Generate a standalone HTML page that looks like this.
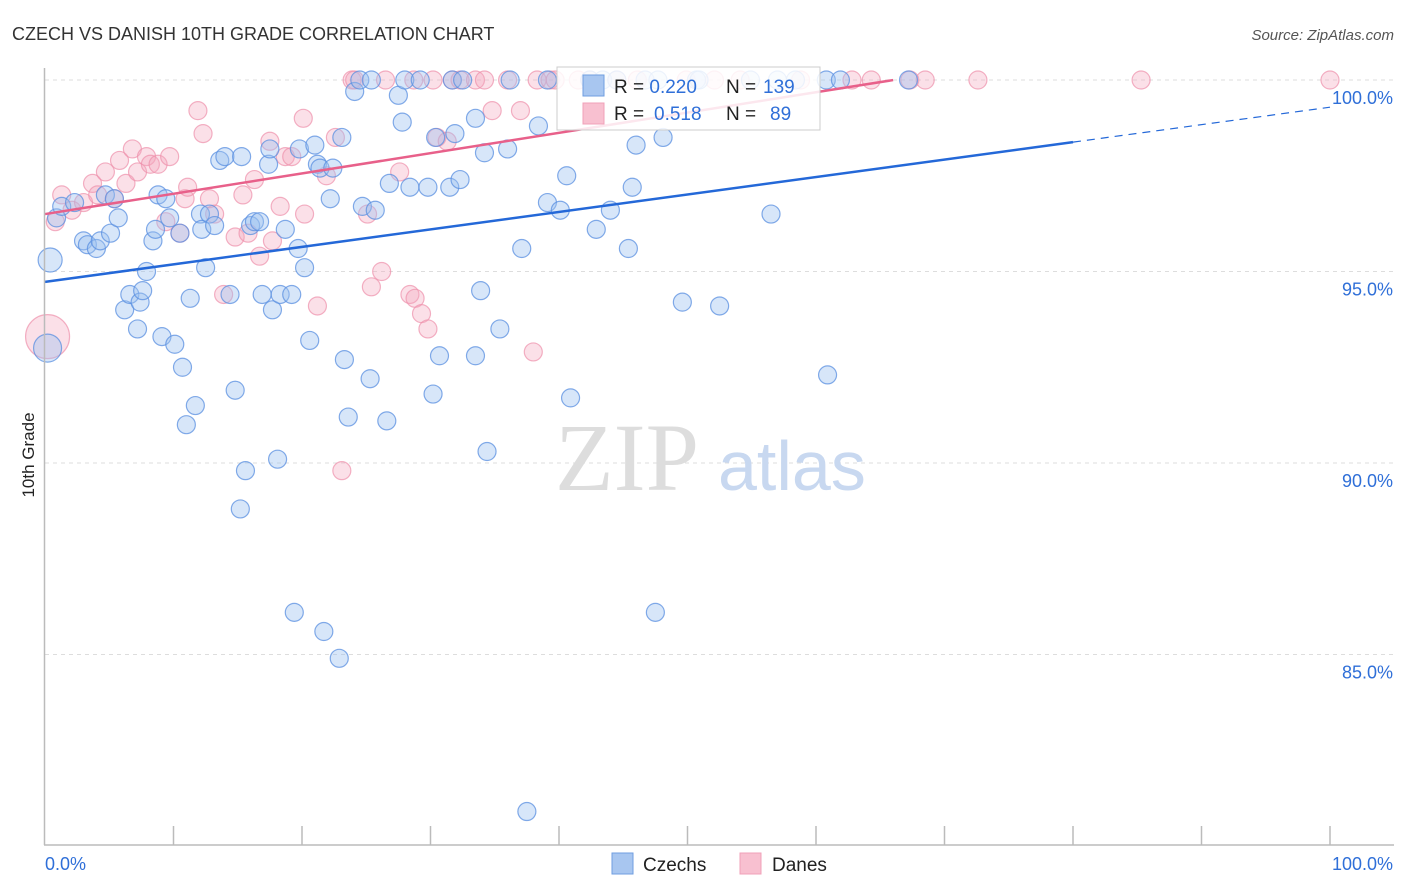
<!DOCTYPE html>
<html><head><meta charset="utf-8"><style>
body{margin:0;background:#fff;font-family:"Liberation Sans",sans-serif}
svg{display:block}
</style></head><body>
<svg id="chart" width="1406" height="892">
<text x="12" y="40" font-size="18" fill="#333">CZECH VS DANISH 10TH GRADE CORRELATION CHART</text>
<text x="1394" y="40" font-size="15" fill="#555" font-style="italic" text-anchor="end">Source: ZipAtlas.com</text>
<text x="34" y="455" font-size="17" fill="#222" text-anchor="middle" transform="rotate(-90 34 455)">10th Grade</text>
<g id="grid"></g>
<text x="555" y="490" font-size="96" fill="#ddd" font-family="Liberation Serif,serif">ZIP</text>
<text x="718" y="490" font-size="70" fill="#c8d8f0">atlas</text>
<g id="pts"></g>
<g id="lines"></g>
<line x1="44.5" y1="68" x2="44.5" y2="845" stroke="#bbb" stroke-width="1.5"/>
<line x1="44" y1="845" x2="1394" y2="845" stroke="#bbb" stroke-width="1.5"/>
<g id="axes"></g>
<g>
<rect x="557" y="67" width="263" height="63" fill="#fff" fill-opacity="0.85" stroke="#ccc"/>
<rect x="583" y="75" width="21" height="21" fill="#a8c6f0" stroke="#6f9ee0"/>
<rect x="583" y="103" width="21" height="21" fill="#f8c0d0" stroke="#f0a0b8"/>
<text x="614" y="93" font-size="19" fill="#222">R = <tspan fill="#2f6fd8">0.220</tspan><tspan x="726">N = </tspan><tspan fill="#2f6fd8" x="763">139</tspan></text>
<text x="614" y="120" font-size="19" fill="#222">R = <tspan fill="#2f6fd8" x="654">0.518</tspan><tspan x="726">N = </tspan><tspan fill="#2f6fd8" x="770">89</tspan></text>
</g>
<g>
<rect x="612" y="853" width="21" height="21" fill="#a8c6f0" stroke="#6f9ee0"/>
<text x="643" y="871" font-size="19" fill="#222">Czechs</text>
<rect x="740" y="853" width="21" height="21" fill="#f8c0d0" stroke="#f0a0b8"/>
<text x="772" y="871" font-size="19" fill="#222">Danes</text>
</g>
</svg>
<script>
const blueX=[0.4,0.2,0.9,1.3,2.3,3.0,3.3,4.0,4.3,4.7,5.1,5.7,5.4,6.2,6.6,7.4,7.2,7.6,7.9,8.4,8.6,8.8,9.1,9.4,9.7,10.1,10.5,10.7,11.3,11.0,11.7,12.1,12.2,12.5,12.8,13.2,13.6,14.0,14.4,14.8,15.2,15.3,15.6,16.0,16.3,16.7,16.9,17.4,17.5,17.7,18.1,18.3,18.7,19.2,19.4,19.7,19.8,20.2,20.6,21.0,21.2,21.4,21.7,22.2,22.4,22.9,23.1,23.3,23.6,24.1,24.7,25.3,25.7,26.6,26.8,27.5,27.8,28.4,29.8,30.2,30.4,30.7,31.5,31.9,32.3,33.5,33.5,33.9,34.2,34.4,35.4,36.0,37.1,37.5,38.4,39.1,40.1,40.6,40.9,42.9,44.0,45.4,45.7,46.0,47.5,48.1,49.6,52.5,56.5,60.9,24.5,25.4,28.0,29.2,31.7,32.5,36.2,39.1,42.4,43.4,44.5,46.7,47.7,50.7,50.9,54.9,57.0,58.4,60.8,61.9,67.2];
const blueY=[95.3,93.0,96.4,96.7,96.8,95.8,95.7,95.6,95.8,97.0,96.0,96.4,96.9,94.0,94.4,94.2,93.5,94.5,95.0,95.8,96.1,97.0,93.3,96.9,96.4,93.1,96.0,92.5,94.3,91.0,91.5,96.5,96.1,95.1,96.5,96.2,97.9,98.0,94.4,91.9,88.8,98.0,89.8,96.2,96.3,96.3,94.4,97.8,98.2,94.0,90.1,94.4,96.1,94.4,86.1,95.6,98.2,95.1,93.2,98.3,97.8,97.7,85.6,96.9,97.7,84.9,98.5,92.7,91.2,99.7,96.7,92.2,96.6,91.1,97.3,99.6,98.9,97.2,97.2,91.8,98.5,92.8,97.2,98.6,97.4,99.0,92.8,94.5,98.1,90.3,93.5,98.2,95.6,80.9,98.8,96.8,96.6,97.5,91.7,96.1,96.6,95.6,97.2,98.3,86.1,98.5,94.2,94.1,96.5,92.3,100,100,100,100,100,100,100,100,100,100,100,100,100,100,100,100,100,100,100,100,100];
const pinkX=[0.2,0.8,1.3,2.1,3.0,3.7,4.1,4.7,5.4,5.8,6.3,6.8,7.2,7.9,8.2,8.8,9.7,9.4,10.5,10.9,11.1,11.9,12.3,12.8,13.2,13.9,14.8,15.4,15.8,16.3,16.7,17.5,17.7,18.3,18.7,19.2,20.1,20.2,21.2,21.9,22.6,23.1,25.1,25.4,26.2,27.6,28.4,28.8,29.3,29.8,30.5,31.3,34.8,37.0,38.0,23.9,24.1,26.5,28.7,30.2,31.7,32.3,33.5,34.2,36.0,38.3,39.3,39.7,41.5,42.4,44.5,46.1,49.9,52.1,54.1,58.8,62.8,64.3,67.3,68.5,72.6,85.3,100];
const pinkY=[93.3,96.3,97.0,96.6,96.8,97.3,97.0,97.6,96.9,97.9,97.3,98.2,97.6,98.0,97.8,97.8,98.0,96.3,96.0,96.9,97.2,99.2,98.6,96.9,96.5,94.4,95.9,97.0,96.0,97.4,95.4,98.4,95.8,96.7,98.0,98.0,99.0,96.5,94.1,97.5,98.5,89.8,96.5,94.6,95.0,97.6,94.4,94.3,93.9,93.5,98.5,98.4,99.2,99.2,92.9,100,100,100,100,100,100,100,100,100,100,100,100,100,100,100,100,100,100,100,100,100,100,100,100,100,100,100,100];
const yTicks=[100,95,90,85];
const yTickLabels=["100.0%","95.0%","90.0%","85.0%"];
const xTicks=[0,10,20,30,40,50,60,70,80,90,100];
const blueTrend=[94.73,0.0456], pinkTrend=[96.5,0.053];
const NS="http://www.w3.org/2000/svg";
const sx=v=>45+v*12.85, sy=v=>80+(100-v)*38.3;
function mk(tag,attrs,parent){const e=document.createElementNS(NS,tag);for(const k in attrs)e.setAttribute(k,attrs[k]);document.getElementById(parent).appendChild(e);return e;}
yTicks.forEach((t,i)=>{
  const g=mk('line',{x1:45,x2:1394,y1:sy(t),y2:sy(t),stroke:'#ddd','stroke-dasharray':'4,4'},'grid');
  
  
  const l=mk('text',{x:1393,y:sy(t)+24,'font-size':18,fill:'#2f6fd8','text-anchor':'end'},'axes');
  l.textContent=yTickLabels[i];
  
  
});
xTicks.forEach(t=>{
  if(t===0)return;
  const k=mk('line',{x1:sx(t),x2:sx(t),y1:826,y2:845,stroke:'#bbb','stroke-width':1.5},'axes');
  
  
});
[[0,'0.0%','start',45],[100,'100.0%','end',1393]].forEach(a=>{
  const l=mk('text',{x:a[3],y:870,'font-size':18,fill:'#2f6fd8','text-anchor':a[2]},'axes');
  l.textContent=a[1];
  
  
});
pinkX.forEach((x,i)=>{
  const r=i===0?22:9;
  const c=mk('circle',{cx:sx(x),cy:sy(pinkY[i]),r:r,fill:'#f4a6bd','fill-opacity':0.35,stroke:'#ee90ab','stroke-opacity':0.7,'stroke-width':1.2},'pts');
  
  
});
blueX.forEach((x,i)=>{
  const r=i===0?12:(i===1?14:9);
  const c=mk('circle',{cx:sx(x),cy:sy(blueY[i]),r:r,fill:'#9cc0f0','fill-opacity':0.4,stroke:'#5a8fe0','stroke-opacity':0.75,'stroke-width':1.2},'pts');
  
  
});
const bl=mk('line',{x1:sx(0),y1:sy(blueTrend[0]),x2:sx(80),y2:sy(blueTrend[0]+80*blueTrend[1]),stroke:'#2468d8','stroke-width':2.5},'lines');


const bd=mk('line',{x1:sx(80),y1:sy(blueTrend[0]+80*blueTrend[1]),x2:sx(100),y2:sy(blueTrend[0]+100*blueTrend[1]),stroke:'#2468d8','stroke-width':1.2,'stroke-dasharray':'8,6'},'lines');


const pl=mk('line',{x1:sx(0),y1:sy(pinkTrend[0]),x2:sx(66),y2:sy(pinkTrend[0]+66*pinkTrend[1]),stroke:'#e8608a','stroke-width':2.5},'lines');


</script>
</body></html>
